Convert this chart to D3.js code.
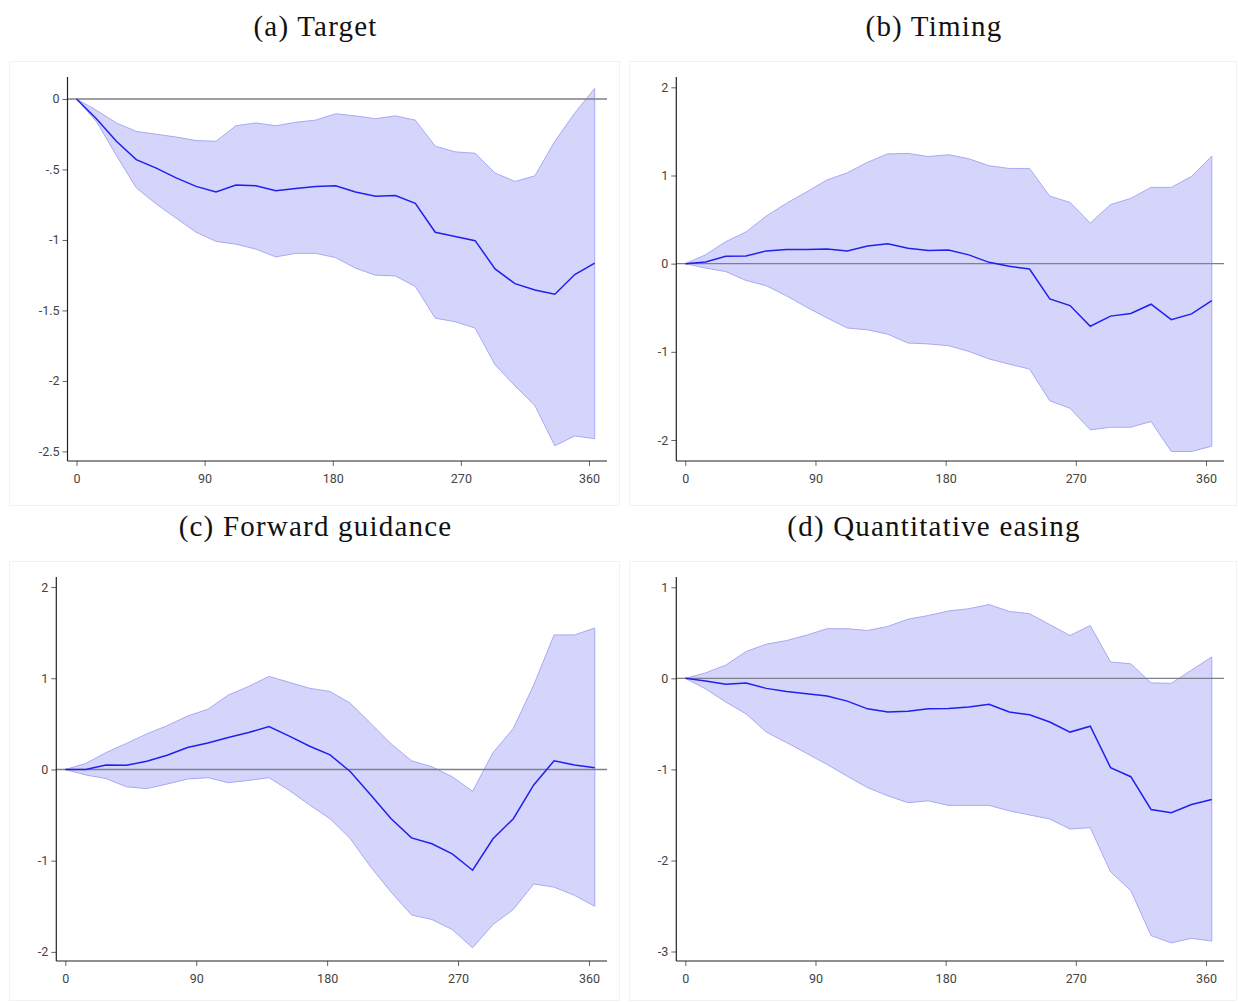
<!DOCTYPE html>
<html>
<head>
<meta charset="utf-8">
<script src="https://cdn.jsdelivr.net/npm/d3@7"></script>
<style>
  body { margin: 0; background: #fff; }
  svg { display: block; }
</style>
</head>
<body>
<svg id="chart" width="1238" height="1002"></svg>
<script>
// horizons (days)
const horizons = [0, 14, 28, 42, 56, 70, 84, 98, 112, 126, 140, 154, 168, 182,
  196, 210, 224, 238, 252, 266, 280, 294, 308, 322, 336, 350, 364];

const titles = ["(a) Target", "(b) Timing", "(c) Forward guidance", "(d) Quantitative easing"];
const xTicks = [0, 90, 180, 270, 360];

// (a) Target
const targetMean = [0, -0.14, -0.30, -0.43, -0.49, -0.56, -0.62, -0.66, -0.61, -0.615, -0.65, -0.635, -0.62, -0.615,
  -0.66, -0.69, -0.685, -0.74, -0.945, -0.975, -1.005, -1.205, -1.31, -1.355, -1.385, -1.245, -1.165];
const targetHi = [0, -0.08, -0.17, -0.23, -0.25, -0.27, -0.295, -0.30, -0.19, -0.17, -0.19, -0.165, -0.15, -0.105,
  -0.12, -0.14, -0.12, -0.15, -0.335, -0.375, -0.385, -0.525, -0.585, -0.545, -0.30, -0.10, 0.075];
const targetLo = [0, -0.16, -0.40, -0.63, -0.745, -0.845, -0.945, -1.01, -1.03, -1.065, -1.12, -1.095, -1.095, -1.125,
  -1.20, -1.25, -1.255, -1.33, -1.555, -1.58, -1.625, -1.885, -2.035, -2.175, -2.46, -2.39, -2.41];
const targetTicks = [0, -0.5, -1, -1.5, -2, -2.5];
const targetTickLabels = ["0", "-.5", "-1", "-1.5", "-2", "-2.5"];

// (b) Timing
const timingMean = [0, 0.02, 0.085, 0.087, 0.145, 0.16, 0.16, 0.165, 0.145, 0.20, 0.225, 0.175, 0.15, 0.155,
  0.10, 0.015, -0.03, -0.06, -0.40, -0.475, -0.71, -0.595, -0.565, -0.46, -0.635, -0.57, -0.42];
const timingHi = [0, 0.10, 0.25, 0.36, 0.54, 0.685, 0.815, 0.95, 1.03, 1.15, 1.245, 1.25, 1.215, 1.235,
  1.19, 1.11, 1.08, 1.08, 0.765, 0.695, 0.46, 0.67, 0.74, 0.865, 0.865, 0.99, 1.22];
const timingLo = [0, -0.05, -0.09, -0.19, -0.25, -0.365, -0.495, -0.615, -0.73, -0.75, -0.80, -0.90, -0.91, -0.93,
  -0.995, -1.08, -1.14, -1.195, -1.555, -1.64, -1.885, -1.855, -1.855, -1.79, -2.13, -2.13, -2.07];
const timingTicks = [2, 1, 0, -1, -2];
const timingTickLabels = ["2", "1", "0", "-1", "-2"];

// (c) Forward guidance
const fgMean = [0, 0.0, 0.05, 0.045, 0.09, 0.155, 0.24, 0.29, 0.35, 0.405, 0.47, 0.365, 0.255, 0.16,
  -0.025, -0.28, -0.54, -0.75, -0.815, -0.925, -1.105, -0.76, -0.54, -0.17, 0.095, 0.05, 0.02];
const fgHi = [0, 0.065, 0.185, 0.285, 0.39, 0.48, 0.585, 0.66, 0.815, 0.91, 1.02, 0.955, 0.89, 0.855,
  0.725, 0.505, 0.28, 0.095, 0.03, -0.08, -0.24, 0.185, 0.45, 0.925, 1.475, 1.475, 1.55];
const fgLo = [0, -0.06, -0.10, -0.19, -0.21, -0.16, -0.105, -0.09, -0.145, -0.12, -0.09, -0.23, -0.39, -0.54,
  -0.76, -1.07, -1.345, -1.595, -1.645, -1.755, -1.955, -1.70, -1.535, -1.255, -1.29, -1.38, -1.50];
const fgTicks = [2, 1, 0, -1, -2];
const fgTickLabels = ["2", "1", "0", "-1", "-2"];

// (d) Quantitative easing
const qeMean = [0, -0.03, -0.065, -0.05, -0.11, -0.145, -0.17, -0.195, -0.25, -0.335, -0.37, -0.36, -0.335, -0.33,
  -0.315, -0.285, -0.37, -0.40, -0.48, -0.59, -0.525, -0.98, -1.08, -1.44, -1.475, -1.385, -1.33];
const qeHi = [0, 0.06, 0.145, 0.295, 0.375, 0.415, 0.475, 0.545, 0.545, 0.525, 0.57, 0.65, 0.69, 0.74,
  0.765, 0.81, 0.735, 0.71, 0.59, 0.47, 0.58, 0.18, 0.16, -0.05, -0.055, 0.09, 0.235];
const qeLo = [0, -0.115, -0.26, -0.39, -0.59, -0.705, -0.825, -0.945, -1.075, -1.20, -1.29, -1.365, -1.345, -1.395,
  -1.395, -1.395, -1.455, -1.50, -1.545, -1.655, -1.64, -2.125, -2.33, -2.825, -2.905, -2.855, -2.885];
const qeTicks = [1, 0, -1, -2, -3];
const qeTickLabels = ["1", "0", "-1", "-2", "-3"];

// panel layout
const panels = [
  {title: titles[0], mean: targetMean, hi: targetHi, lo: targetLo, ticks: targetTicks, labels: targetTickLabels,
   yDomain: [-2.568, 0.156], box: [9, 61, 620, 506], axisX: 67.5, titleY: 36},
  {title: titles[1], mean: timingMean, hi: timingHi, lo: timingLo, ticks: timingTicks, labels: timingTickLabels,
   yDomain: [-2.238, 2.117], box: [629, 61, 1237, 506], axisX: 676.3, titleY: 36},
  {title: titles[2], mean: fgMean, hi: fgHi, lo: fgLo, ticks: fgTicks, labels: fgTickLabels,
   yDomain: [-2.10, 2.11], box: [9, 561, 620, 1001], axisX: 56.3, titleY: 536},
  {title: titles[3], mean: qeMean, hi: qeHi, lo: qeLo, ticks: qeTicks, labels: qeTickLabels,
   yDomain: [-3.104, 1.113], box: [629, 561, 1237, 1001], axisX: 676.3, titleY: 536}
];

const svg = d3.select("#chart");

panels.forEach(p => {
  const [bx0, by0, bx1, by1] = p.box;
  const top = by0 + 16;      // top of plot region
  const bottom = by0 + 400;  // x axis position
  const right = bx1 - 13;    // end of x axis line
  const cx = (bx0 + bx1) / 2;

  // title
  svg.append("text")
    .attr("x", cx + 1)
    .attr("y", p.titleY)
    .attr("text-anchor", "middle")
    .attr("font-family", "'Liberation Serif', serif")
    .attr("font-size", 29)
    .attr("letter-spacing", 1.2)
    .attr("fill", "#111")
    .text(p.title);

  // faint frame
  svg.append("rect")
    .attr("x", bx0 + 0.5).attr("y", by0 + 0.5)
    .attr("width", bx1 - bx0 - 1).attr("height", by1 - by0 - 1)
    .attr("fill", "#fff")
    .attr("stroke", "#f2f2f2");

  const x = d3.scaleLinear()
    .domain([0, 360])
    .range([p.axisX + 9, bx1 - 31]);

  const y = d3.scaleLinear()
    .domain(p.yDomain)
    .range([bottom, top]);

  const g = svg.append("g");

  const area = d3.area()
    .x((d, i) => x(horizons[i]))
    .y0((d, i) => y(p.lo[i]))
    .y1((d, i) => y(p.hi[i]));

  g.append("path")
    .datum(p.mean)
    .attr("d", area)
    .attr("fill", "#d5d5fb")
    .attr("stroke", "#a8a8f6")
    .attr("stroke-width", 1);

  // zero line
  g.append("line")
    .attr("x1", p.axisX).attr("x2", right)
    .attr("y1", y(0)).attr("y2", y(0))
    .attr("stroke", "#7f7f8a")
    .attr("stroke-width", 1.4);

  const line = d3.line()
    .x((d, i) => x(horizons[i]))
    .y(d => y(d));

  g.append("path")
    .datum(p.mean)
    .attr("d", line)
    .attr("fill", "none")
    .attr("stroke", "#2020ee")
    .attr("stroke-width", 1.5);

  // y axis
  const yAxis = d3.axisLeft(y)
    .tickValues(p.ticks)
    .tickFormat((d, i) => p.labels[i])
    .tickSize(5)
    .tickPadding(3);

  const ya = g.append("g")
    .attr("transform", `translate(${p.axisX},0)`)
    .call(yAxis);
  ya.select(".domain").remove();
  ya.selectAll(".tick line").attr("stroke", "#666");
  ya.selectAll(".tick text")
    .attr("font-family", "Roboto, sans-serif")
    .attr("font-size", 12.5)
    .attr("fill", "#444");

  g.append("line")
    .attr("x1", p.axisX).attr("x2", p.axisX)
    .attr("y1", top).attr("y2", bottom)
    .attr("stroke", "#222").attr("stroke-width", 1.2);

  // x axis
  const xAxis = d3.axisBottom(x)
    .tickValues(xTicks)
    .tickSize(5)
    .tickPadding(8);

  const xa = g.append("g")
    .attr("transform", `translate(0,${bottom})`)
    .call(xAxis);
  xa.select(".domain").remove();
  xa.selectAll(".tick line").attr("stroke", "#666");
  xa.selectAll(".tick text")
    .attr("font-family", "Roboto, sans-serif")
    .attr("font-size", 12.5)
    .attr("fill", "#444");

  g.append("line")
    .attr("x1", p.axisX).attr("x2", right)
    .attr("y1", bottom).attr("y2", bottom)
    .attr("stroke", "#222").attr("stroke-width", 1.2);
});
</script>
</body>
</html>
